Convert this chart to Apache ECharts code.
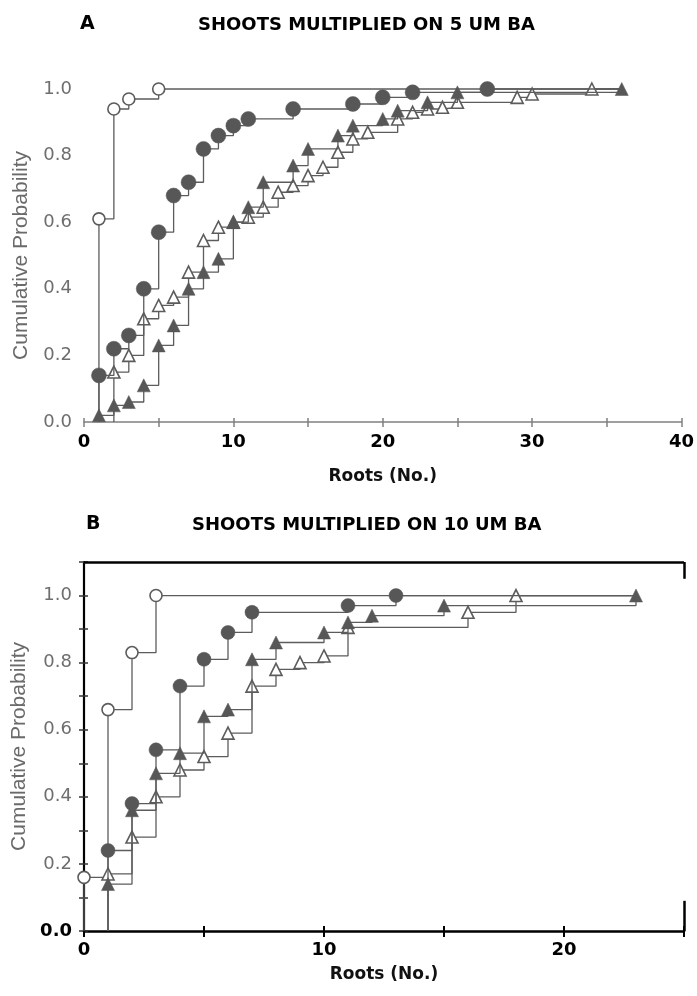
<!DOCTYPE html>
<html>
<head>
<meta charset="utf-8">
<script src="https://cdn.jsdelivr.net/npm/echarts@6/dist/echarts.min.js"></script>
<style>
  html, body { margin: 0; padding: 0; background: #fff; }
  #chart { width: 697px; height: 996px; }
</style>
</head>
<body>
<div id="chart"></div>
<script>
// Panel A: shoots multiplied on 5 uM BA
const openCircleA_x = [1, 2, 3, 5];
const openCircleA_y = [0.61, 0.94, 0.97, 1.0];
const filledCircleA_x = [1, 2, 3, 4, 5, 6, 7, 8, 9, 10, 11, 14, 18, 20, 22, 27];
const filledCircleA_y = [0.14, 0.22, 0.26, 0.40, 0.57, 0.68, 0.72, 0.82, 0.86, 0.89, 0.91, 0.94, 0.955, 0.975, 0.99, 1.0];
const filledTriA_x = [1, 2, 3, 4, 5, 6, 7, 8, 9, 10, 11, 12, 14, 15, 17, 18, 20, 21, 23, 25, 36];
const filledTriA_y = [0.02, 0.05, 0.06, 0.11, 0.23, 0.29, 0.40, 0.45, 0.49, 0.60, 0.645, 0.72, 0.77, 0.82, 0.86, 0.89, 0.91, 0.935, 0.96, 0.99, 1.0];
const openTriA_x = [2, 3, 4, 5, 6, 7, 8, 9, 10, 11, 12, 13, 14, 15, 16, 17, 18, 19, 21, 22, 23, 24, 25, 29, 30, 34];
const openTriA_y = [0.15, 0.20, 0.31, 0.35, 0.375, 0.45, 0.545, 0.585, 0.60, 0.615, 0.645, 0.69, 0.71, 0.74, 0.765, 0.81, 0.85, 0.87, 0.91, 0.93, 0.94, 0.945, 0.96, 0.975, 0.985, 1.0];
const endA = 36;

// Panel B: shoots multiplied on 10 uM BA
const openCircleB_x = [0, 1, 2, 3];
const openCircleB_y = [0.16, 0.66, 0.83, 1.0];
const filledCircleB_x = [1, 2, 3, 4, 5, 6, 7, 11, 13];
const filledCircleB_y = [0.24, 0.38, 0.54, 0.73, 0.81, 0.89, 0.95, 0.97, 1.0];
const filledTriB_x = [1, 2, 3, 4, 5, 6, 7, 8, 10, 11, 12, 15, 23];
const filledTriB_y = [0.14, 0.36, 0.47, 0.53, 0.64, 0.66, 0.81, 0.86, 0.89, 0.92, 0.94, 0.97, 1.0];
const openTriB_x = [1, 2, 3, 4, 5, 6, 7, 8, 9, 10, 11, 16, 18];
const openTriB_y = [0.17, 0.28, 0.40, 0.48, 0.52, 0.59, 0.73, 0.78, 0.80, 0.82, 0.905, 0.95, 1.0];
const endB = 23;

const lineColor = '#5c5c5c';
const wideFont = 'DejaVu Sans, Verdana, sans-serif';
const nameFont = 'Liberation Sans, Arial, sans-serif';

// cumulative step: rises from 0 at the first x, runs flat after the last point
function stepData (xs, ys, endX) {
  const d = [{ value: [xs[0], 0], symbol: 'none' }];
  xs.forEach((x, i) => d.push([x, ys[i]]));
  d.push({ value: [endX, ys[ys.length - 1]], symbol: 'none' });
  return d;
}

function makeSeries (name, xs, ys, endX, gi, kind, size) {
  const open = kind === 'openCircle' || kind === 'openTri';
  return {
    name: name,
    type: 'line',
    step: 'end',
    xAxisIndex: gi,
    yAxisIndex: gi,
    data: stepData(xs, ys, endX),
    symbol: kind.indexOf('Circle') >= 0 ? 'circle' : 'triangle',
    symbolSize: size,
    showAllSymbol: true,
    clip: false,
    z: open ? 3 : 4,
    lineStyle: { color: lineColor, width: 1.3 },
    itemStyle: open
      ? { color: '#fff', borderColor: lineColor, borderWidth: 1.6 }
      : { color: '#575757', borderColor: '#575757', borderWidth: 0.5 },
    emphasis: { disabled: true },
    animation: false
  };
}

// extra axis that only draws the inner half of crossing ticks
function innerTicks (dim, gi, min, max, interval, color, width, length) {
  return {
    gridIndex: gi, type: 'value', min: min, max: max, interval: interval,
    position: dim === 'x' ? 'bottom' : 'left',
    axisLine: { show: false },
    axisTick: { inside: true, length: length, lineStyle: { color: color, width: width } },
    axisLabel: { show: false },
    splitLine: { show: false }
  };
}

const chart = echarts.init(document.getElementById('chart'));

const titleStyle = { fontFamily: wideFont, fontSize: 18, fontWeight: 'bold', color: '#000' };
const letterStyle = { fontFamily: wideFont, fontSize: 19, fontWeight: 'bold', color: '#000' };

const option = {
  backgroundColor: '#fff',
  title: [
    { text: 'A', left: 75, top: 10, textStyle: letterStyle },
    { text: 'SHOOTS MULTIPLIED ON 5 UM BA', left: 193, top: 11, textStyle: titleStyle },
    { text: 'B', left: 81, top: 510, textStyle: letterStyle },
    { text: 'SHOOTS MULTIPLIED ON 10 UM BA', left: 187, top: 511, textStyle: titleStyle }
  ],
  grid: [
    { left: 84, right: 15, top: 89, bottom: 574 },
    { left: 84, right: 13, top: 562, bottom: 65 }
  ],
  xAxis: [
    {
      gridIndex: 0, type: 'value', min: 0, max: 40, interval: 5,
      name: 'Roots (No.)', nameLocation: 'middle', nameGap: 46,
      nameTextStyle: { fontFamily: wideFont, fontSize: 17, fontWeight: 'bold', color: '#111' },
      axisLine: { lineStyle: { color: '#808080', width: 1.5 } },
      axisTick: { length: 5, lineStyle: { color: '#808080', width: 1.5 } },
      axisLabel: {
        margin: 11, fontFamily: wideFont, fontSize: 18, fontWeight: 'bold', color: '#000',
        formatter: v => (v % 10 === 0 ? String(v) : '')
      },
      splitLine: { show: false }
    },
    {
      gridIndex: 1, type: 'value', min: 0, max: 25, interval: 5,
      name: 'Roots (No.)', nameLocation: 'middle', nameGap: 35,
      nameTextStyle: { fontFamily: wideFont, fontSize: 17, fontWeight: 'bold', color: '#111' },
      axisLine: { lineStyle: { color: '#000', width: 2.5 } },
      axisTick: { length: 6, lineStyle: { color: '#000', width: 2 } },
      axisLabel: {
        margin: 10, fontFamily: wideFont, fontSize: 18, fontWeight: 'bold', color: '#000',
        formatter: v => (v % 10 === 0 ? String(v) : '')
      },
      splitLine: { show: false }
    },
    innerTicks('x', 0, 0, 40, 5, '#808080', 1.5, 4),
    innerTicks('x', 1, 0, 25, 5, '#000', 2, 5)
  ],
  yAxis: [
    {
      gridIndex: 0, type: 'value', min: 0, max: 1.0, interval: 0.2,
      name: 'Cumulative Probability', nameLocation: 'middle', nameGap: 52,
      nameTextStyle: { fontFamily: nameFont, fontSize: 21, color: '#6a6a6a' },
      axisLine: { show: false },
      axisTick: { show: false },
      axisLabel: { margin: 12, fontFamily: wideFont, fontSize: 18, color: '#6e6e6e', formatter: v => v.toFixed(1) },
      splitLine: { show: false }
    },
    {
      gridIndex: 1, type: 'value', min: 0, max: 1.1, interval: 0.1,
      name: 'Cumulative Probability', nameLocation: 'middle', nameGap: 52,
      nameTextStyle: { fontFamily: nameFont, fontSize: 21, color: '#6a6a6a' },
      axisLine: { lineStyle: { color: '#000', width: 2.2 } },
      axisTick: { length: 5, lineStyle: { color: '#333', width: 1.5 } },
      axisLabel: {
        margin: 12, fontFamily: wideFont, fontSize: 18, color: '#6e6e6e',
        formatter: v => {
          const k = Math.round(v * 10);
          if (k % 2 !== 0 || k > 10) return '';
          return k === 0 ? '{b|0.0}' : (k / 10).toFixed(1);
        },
        rich: { b: { fontFamily: wideFont, fontSize: 18, fontWeight: 'bold', color: '#000' } }
      },
      splitLine: { show: false }
    },
    innerTicks('y', 1, 0, 1.1, 0.1, '#333', 1.5, 4)
  ],
  series: [
    makeSeries('openCircleA', openCircleA_x, openCircleA_y, endA, 0, 'openCircle', 12),
    makeSeries('openTriA', openTriA_x, openTriA_y, endA, 0, 'openTri', 12),
    makeSeries('filledTriA', filledTriA_x, filledTriA_y, endA, 0, 'filledTri', 13),
    makeSeries('filledCircleA', filledCircleA_x, filledCircleA_y, endA, 0, 'filledCircle', 15),
    makeSeries('openCircleB', openCircleB_x, openCircleB_y, endB, 1, 'openCircle', 12),
    makeSeries('openTriB', openTriB_x, openTriB_y, endB, 1, 'openTri', 12),
    makeSeries('filledTriB', filledTriB_x, filledTriB_y, endB, 1, 'filledTri', 13),
    makeSeries('filledCircleB', filledCircleB_x, filledCircleB_y, endB, 1, 'filledCircle', 14),
    {
      // top frame line and right-hand bracket ends of panel B
      type: 'line', xAxisIndex: 1, yAxisIndex: 1, data: [], silent: true,
      markLine: {
        symbol: 'none', silent: true, label: { show: false },
        lineStyle: { color: '#000', width: 2.5, type: 'solid' },
        data: [
          [{ coord: [0, 1.1] }, { coord: [25, 1.1] }],
          [{ coord: [25, 1.1] }, { coord: [25, 1.05] }],
          [{ coord: [25, 0] }, { coord: [25, 0.09] }]
        ]
      }
    }
  ]
};

chart.setOption(option);
</script>
</body>
</html>
